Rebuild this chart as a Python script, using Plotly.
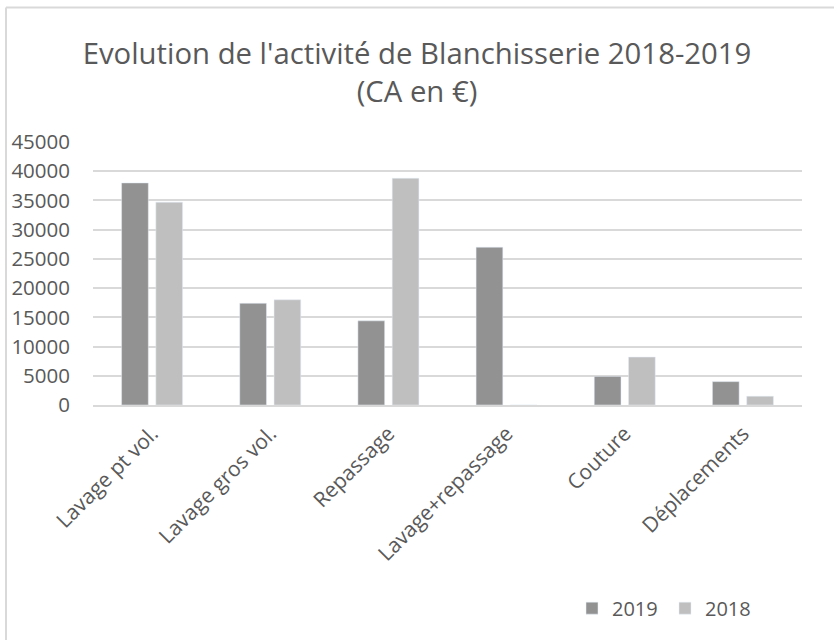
import plotly.graph_objects as go

categories = ['Lavage pt vol.', 'Lavage gros vol.', 'Repassage', 'Lavage+repassage', 'Couture', 'Déplacements']
ca_2019 = [38000, 17400, 14400, 27000, 4900, 4000]
ca_2018 = [34700, 18000, 38800, 0, 8200, 1500]
y_ticks = list(range(0, 45001, 5000))

FONT = 'Open Sans'
TXT = '#595959'

fig = go.Figure()
fig.add_trace(go.Bar(x=categories, y=ca_2019, name='2019', marker_color='#929292'))
fig.add_trace(go.Bar(x=categories, y=ca_2018, name='2018', marker_color='#bfbfbf'))

L, R, T, B = 93, 32, 142, 230
W, H = 834, 640
pw, ph = W - L - R, H - T - B

# outer chart border (only left and top edges are visible in the frame)
bx = (6 - L) / pw
by = 1 + (T - 5) / ph
fig.add_shape(type='line', xref='paper', yref='paper', x0=bx, x1=bx, y0=by, y1=-B / ph - 0.1,
              line=dict(color='#d9d9d9', width=2))
fig.add_shape(type='line', xref='paper', yref='paper', x0=bx, x1=1 + R / pw + 0.1, y0=by, y1=by,
              line=dict(color='#d9d9d9', width=2))

fig.update_layout(
    width=W, height=H,
    margin=dict(l=L, r=R, t=T, b=B),
    paper_bgcolor='white', plot_bgcolor='white',
    font=dict(family=FONT, color=TXT),
    title=dict(text="Evolution de l'activité de Blanchisserie 2018-2019<br>(CA en €)",
               x=0.5, xanchor='center', y=1 - 64 / H, yanchor='middle',
               font=dict(size=29.3, family=FONT, color=TXT)),
    barmode='group', bargap=0.42, bargroupgap=0.22,
    showlegend=True,
    legend=dict(orientation='h', x=(572 - L) / pw, xanchor='left', y=-(617 - T - ph) / ph,
                yanchor='middle', font=dict(size=20, color=TXT), itemwidth=30,
                entrywidth=48, traceorder='normal'),
    xaxis=dict(tickangle=-45, tickfont=dict(size=21, color=TXT), showline=True,
               linecolor='#d9d9d9', linewidth=2, ticks='', ticklabelstandoff=6),
    yaxis=dict(range=[0, 45000], tickvals=y_ticks, ticktext=[str(v) for v in y_ticks],
               tickfont=dict(size=20.5, color=TXT),
               showgrid=True, gridcolor='#d9d9d9', gridwidth=2, zeroline=False, ticks='',
               ticklabelstandoff=22),
)

# page has a default 8px body margin; drop it so the figure sits at the window origin
fig.write_html('out.html', config={'displayModeBar': False},
               post_script="document.body.style.margin='0';")
